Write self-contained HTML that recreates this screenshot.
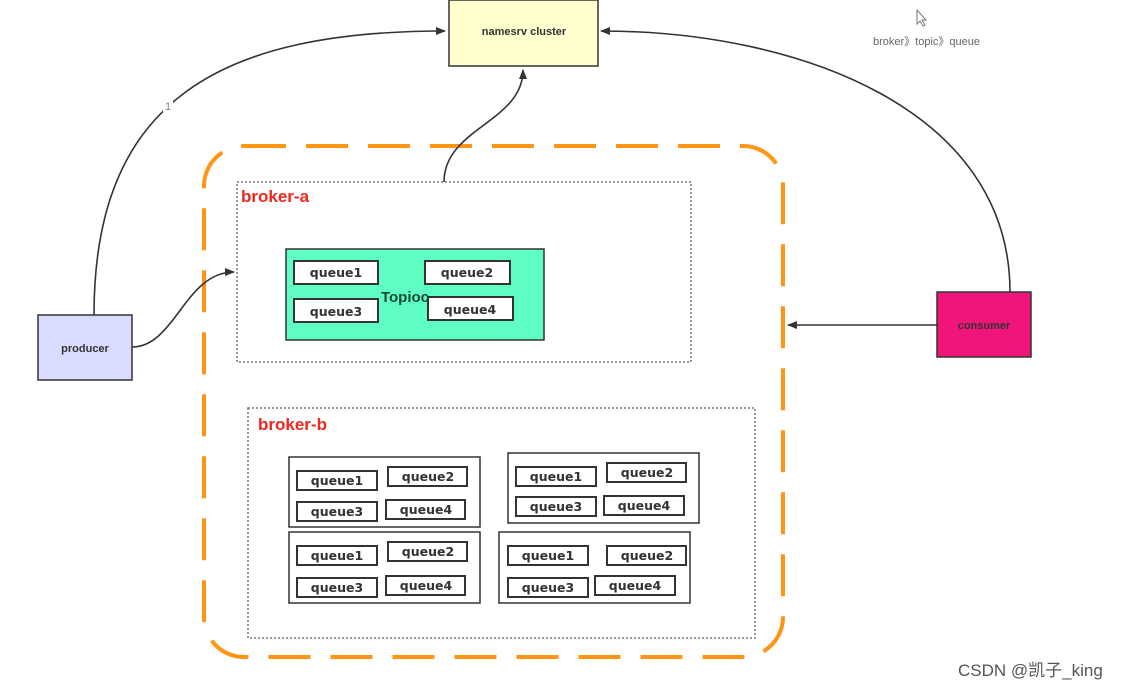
<!DOCTYPE html>
<html><head><meta charset="utf-8"><style>
html,body{margin:0;padding:0;background:#fff;}
svg{display:block;font-family:"Liberation Sans","DejaVu Sans",sans-serif;}
.q{fill:#fff;stroke:#333;stroke-width:2;}
.qt{font-size:12.5px;font-weight:bold;fill:#333;text-anchor:middle;font-family:"DejaVu Sans","Liberation Sans",sans-serif;}
.g{fill:none;stroke:#333;stroke-width:1.5;}
.ln{fill:none;stroke:#333;stroke-width:1.6;}
</style></head><body>
<svg width="1131" height="689" viewBox="0 0 1131 689" xmlns="http://www.w3.org/2000/svg">
<defs>
<marker id="a" markerWidth="10" markerHeight="8" refX="9" refY="4" orient="auto" markerUnits="userSpaceOnUse">
<path d="M0,0 L10,4 L0,8 z" fill="#333"/></marker>
</defs>
<rect x="204" y="146" width="579" height="511" rx="40" ry="40" fill="none" stroke="#ff9415" stroke-width="4" stroke-dasharray="42,20"/>

<path class="ln" d="M94,315 C94,100 220,31 445,31" marker-end="url(#a)"/>
<rect x="163" y="100" width="10" height="12" fill="#fff"/>
<text x="168" y="110" font-size="11" fill="#888" text-anchor="middle">1</text>
<path class="ln" d="M132,347 C175,347 185,272 234,272" marker-end="url(#a)"/>
<path class="ln" d="M444,182 C444,128 523,122 523,70" marker-end="url(#a)"/>
<path class="ln" d="M1010,292 C1010,110 800,31 601,31" marker-end="url(#a)"/>
<path class="ln" d="M937,325 L788,325" marker-end="url(#a)"/>

<rect x="449" y="0" width="149" height="66" fill="#ffffd0" stroke="#333" stroke-width="1.5"/>
<text x="524" y="35" font-size="11" font-weight="bold" fill="#333" text-anchor="middle">namesrv cluster</text>
<rect x="38" y="315" width="94" height="65" fill="#d9dbff" stroke="#333" stroke-width="1.5"/>
<text x="85" y="352" font-size="11" font-weight="bold" fill="#333" text-anchor="middle">producer</text>
<rect x="937" y="292" width="94" height="65" fill="#f0157b" stroke="#333" stroke-width="1.5"/>
<text x="984" y="329" font-size="11" font-weight="bold" fill="#333" text-anchor="middle">consumer</text>

<path d="M917,10 L917,24 L920,21 L923,26 L925,25 L922,20 L926,20 z" fill="#fff" stroke="#777" stroke-width="1"/>
<text x="873" y="45" font-size="11" fill="#666">broker》topic》queue</text>

<rect x="237" y="182" width="454" height="180" fill="none" stroke="#777" stroke-width="1.5" stroke-dasharray="2,2"/>
<text x="241" y="202" font-size="17" font-weight="bold" fill="#f0261f">broker-a</text>
<rect x="286" y="249" width="258" height="91" fill="#5fffc3" stroke="#333" stroke-width="1.5"/>
<rect class="q" x="294" y="261" width="84" height="23"/><text class="qt" x="336" y="277">queue1</text>
<rect class="q" x="425" y="261" width="85" height="23"/><text class="qt" x="467" y="277">queue2</text>
<rect class="q" x="294" y="299" width="84" height="23"/><text class="qt" x="336" y="316">queue3</text>
<rect class="q" x="428" y="297" width="85" height="23"/><text class="qt" x="470" y="314">queue4</text>
<text x="405" y="302" font-size="15" font-weight="bold" fill="#1a4a35" text-anchor="middle">Topioc</text>

<rect x="248" y="408" width="507" height="230" fill="none" stroke="#777" stroke-width="1.5" stroke-dasharray="2,2"/>
<text x="258" y="430" font-size="17" font-weight="bold" fill="#f0261f">broker-b</text>

<rect class="g" x="289" y="457" width="191" height="70"/>
<rect class="q" x="297" y="471" width="80" height="19"/><text class="qt" x="337" y="485">queue1</text>
<rect class="q" x="388" y="467" width="79" height="19"/><text class="qt" x="428" y="481">queue2</text>
<rect class="q" x="297" y="502" width="80" height="19"/><text class="qt" x="337" y="516">queue3</text>
<rect class="q" x="386" y="500" width="79" height="19"/><text class="qt" x="426" y="514">queue4</text>

<rect class="g" x="508" y="453" width="191" height="70"/>
<rect class="q" x="516" y="467" width="80" height="19"/><text class="qt" x="556" y="481">queue1</text>
<rect class="q" x="607" y="463" width="79" height="19"/><text class="qt" x="647" y="477">queue2</text>
<rect class="q" x="516" y="497" width="80" height="19"/><text class="qt" x="556" y="511">queue3</text>
<rect class="q" x="604" y="496" width="80" height="19"/><text class="qt" x="644" y="510">queue4</text>

<rect class="g" x="289" y="532" width="191" height="71"/>
<rect class="q" x="297" y="546" width="80" height="19"/><text class="qt" x="337" y="560">queue1</text>
<rect class="q" x="388" y="542" width="79" height="19"/><text class="qt" x="428" y="556">queue2</text>
<rect class="q" x="297" y="578" width="80" height="19"/><text class="qt" x="337" y="592">queue3</text>
<rect class="q" x="386" y="576" width="79" height="19"/><text class="qt" x="426" y="590">queue4</text>

<rect class="g" x="499" y="532" width="191" height="71"/>
<rect class="q" x="508" y="546" width="80" height="19"/><text class="qt" x="548" y="560">queue1</text>
<rect class="q" x="607" y="546" width="79" height="19"/><text class="qt" x="647" y="560">queue2</text>
<rect class="q" x="508" y="578" width="80" height="19"/><text class="qt" x="548" y="592">queue3</text>
<rect class="q" x="595" y="576" width="80" height="19"/><text class="qt" x="635" y="590">queue4</text>

<text x="958" y="676" font-size="17" fill="#555" font-family="Liberation Sans, Noto Sans CJK SC, sans-serif">CSDN @凯子_king</text>
</svg>
</body></html>
